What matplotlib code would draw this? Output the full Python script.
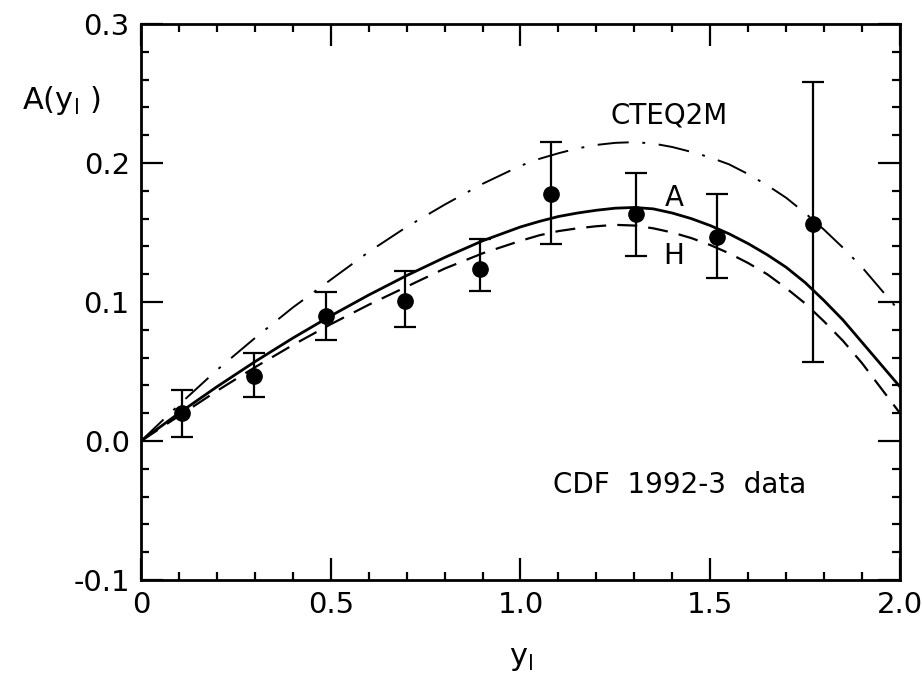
import numpy as np
import matplotlib.pyplot as plt
from matplotlib.ticker import MultipleLocator

# CDF 1992-3 data points
y_data = [0.108, 0.298, 0.487, 0.696, 0.893, 1.080, 1.304, 1.518, 1.771]
a_data = [0.020, 0.047, 0.090, 0.101, 0.124, 0.178, 0.163, 0.147, 0.156]
a_hi = [0.037, 0.063, 0.107, 0.122, 0.145, 0.215, 0.193, 0.178, 0.258]
a_lo = [0.003, 0.032, 0.073, 0.082, 0.108, 0.142, 0.133, 0.117, 0.057]

# theory curves (finer steps where they bend)
y_curve = [0.0, 0.1, 0.2, 0.3, 0.4, 0.5, 0.6, 0.7, 0.8, 0.9,
           1.0, 1.05, 1.1, 1.15, 1.2, 1.25, 1.3, 1.35, 1.4, 1.45, 1.5,
           1.55, 1.6, 1.65, 1.7, 1.75, 1.8, 1.85, 1.9, 1.95, 2.0]
curve_a = [0.0, 0.020, 0.039, 0.057, 0.074, 0.090, 0.105, 0.119, 0.132, 0.144,
           0.154, 0.158, 0.1615, 0.164, 0.166, 0.1675, 0.168, 0.167, 0.164, 0.160, 0.155,
           0.149, 0.142, 0.134, 0.125, 0.114, 0.101, 0.087, 0.071, 0.055, 0.039]
curve_h = [0.0, 0.018, 0.036, 0.053, 0.069, 0.084, 0.098, 0.111, 0.124, 0.135,
           0.144, 0.148, 0.151, 0.153, 0.1545, 0.1555, 0.155, 0.153, 0.150, 0.146, 0.141,
           0.135, 0.128, 0.120, 0.110, 0.099, 0.086, 0.072, 0.056, 0.038, 0.020]
curve_cteq = [0.0, 0.026, 0.051, 0.074, 0.096, 0.116, 0.136, 0.154, 0.170, 0.185,
              0.198, 0.203, 0.207, 0.2105, 0.213, 0.2145, 0.215, 0.214, 0.2115, 0.208, 0.204,
              0.199, 0.192, 0.184, 0.175, 0.164, 0.152, 0.139, 0.125, 0.109, 0.093]

plt.rcParams['font.family'] = ['DejaVu Sans']
plt.rcParams['mathtext.default'] = 'regular'

fig = plt.figure(figsize=(9.22, 6.82), dpi=100)
ax = fig.add_axes([0.1529, 0.1496, 0.8232, 0.8152])

ax.plot(y_curve, curve_a, color='k', lw=2.0)
ax.plot(y_curve, curve_h, color='k', lw=1.6, dashes=(9, 5))
ax.plot(y_curve, curve_cteq, color='k', lw=1.4, dashes=(16, 7, 1.5, 7))

y_err = [np.array(a_data) - np.array(a_lo), np.array(a_hi) - np.array(a_data)]
ax.errorbar(y_data, a_data, yerr=y_err, fmt='o', color='k', ms=11,
            capsize=8, elinewidth=1.6, capthick=1.6)

ax.set_xlim(0, 2.0)
ax.set_ylim(-0.1, 0.3)
ax.xaxis.set_minor_locator(MultipleLocator(0.1))
ax.yaxis.set_minor_locator(MultipleLocator(0.02))
ax.set_xticks([0, 0.5, 1.0, 1.5, 2.0])
ax.set_xticklabels(['0', '0.5', '1.0', '1.5', '2.0'])
ax.set_yticks([-0.1, 0.0, 0.1, 0.2, 0.3])
ax.set_yticklabels(['-0.1', '0.0', '0.1', '0.2', '0.3'])
ax.tick_params(which='both', direction='in', top=True, right=True, width=1.6,
               labelsize=21, pad=8)
ax.tick_params(which='major', length=16)
ax.tick_params(which='minor', length=6)
for s in ax.spines.values():
    s.set_linewidth(2)

ax.text(1.236, 0.2345, 'CTEQ2M', fontsize=20, va='center', ha='left')
ax.text(1.38, 0.175, 'A', fontsize=20, va='center', ha='left')
ax.text(1.375, 0.133, 'H', fontsize=20, va='center', ha='left')
ax.text(1.086, -0.032, 'CDF  1992-3  data', fontsize=20, va='center', ha='left')

fig.text(0.024, 0.853, 'A(y$_l$ )', fontsize=22, va='center', ha='left')
fig.text(0.565, 0.035, 'y$_l$', fontsize=22, va='center', ha='center')

fig.savefig('out.png', dpi=100)
